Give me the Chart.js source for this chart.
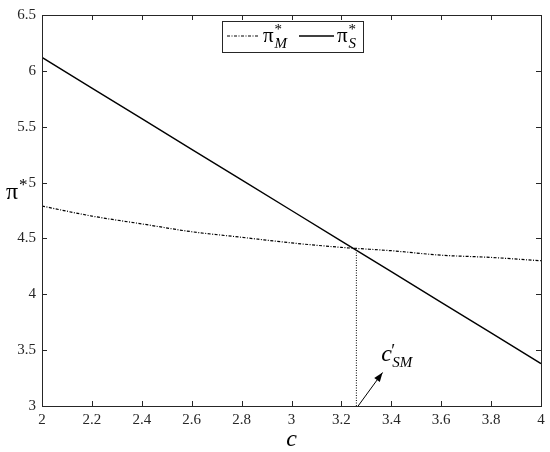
<!DOCTYPE html>
<html>
<head>
<meta charset="utf-8">
<script src="https://cdn.jsdelivr.net/npm/chart.js@4.4.1/dist/chart.umd.min.js"></script>
<style>
  body { margin: 0; background: #fff; }
  #wrap { width: 550px; height: 452px; }
  #warm { position: absolute; left: -999px; top: 0; }
</style>
</head>
<body>
<canvas id="warm" width="200" height="40"></canvas>
<div id="wrap"><canvas id="myChart"></canvas></div>
<script>
const cValues = [2, 2.2, 2.4, 2.6, 2.8, 3, 3.2, 3.4, 3.6, 3.8, 4];
const piM = [4.79, 4.70, 4.63, 4.56, 4.51, 4.46, 4.42, 4.39, 4.35, 4.33, 4.30];
const piS = [6.12, 5.846, 5.572, 5.298, 5.024, 4.75, 4.476, 4.202, 3.928, 3.654, 3.38];
const crossC = [3.26, 3.26];
const crossPi = [3, 4.40];
const xTicks = [2, 2.2, 2.4, 2.6, 2.8, 3, 3.2, 3.4, 3.6, 3.8, 4];
const yTicks = [3, 3.5, 4, 4.5, 5, 5.5, 6, 6.5];
const arrowFrom = [3.267, 3.0];
const arrowTo = [3.365, 3.30];
const labelAt = [3.36, 3.40];

const ctx = document.getElementById("myChart");
const ink = "#262626";
const serif = "'Liberation Serif'";

// touch the serif faces once on a plain canvas before the chart draws
const warm = document.getElementById("warm").getContext("2d");
["20px ", "italic 20px "].forEach((s) => {
  warm.font = s + serif;
  warm.fillText("π c 6.5 SM", 5, 25);
});

function toPoints(xs, ys) {
  return xs.map((x, i) => ({ x: x, y: ys[i] }));
}

function fmt(v) {
  return String(Math.round(v * 10) / 10);
}

// pi with superscript star and optional subscript
function drawPi(c, x, y, sub, size) {
  c.fillStyle = "#000";
  c.textAlign = "left";
  c.textBaseline = "alphabetic";
  c.font = size + "px " + serif;
  c.fillText("π", x, y);
  const w = c.measureText("π").width;
  c.font = Math.round(size * 0.7) + "px " + serif;
  c.fillText("*", x + w + 1, y - size * 0.38);
  if (sub) {
    c.font = "italic " + Math.round(size * 0.72) + "px " + serif;
    c.fillText(sub, x + w + 1, y + size * 0.3);
  }
}

const overlay = {
  id: "overlay",
  afterDraw(chart) {
    const c = chart.ctx;
    const a = chart.chartArea;
    const xs = chart.scales.x;
    const ys = chart.scales.y;
    c.save();
    // box
    c.strokeStyle = ink;
    c.lineWidth = 1;
    c.strokeRect(Math.round(a.left) + 0.5, Math.round(a.top) + 0.5,
      Math.round(a.right - a.left), Math.round(a.bottom - a.top));
    // inward ticks on all sides
    c.beginPath();
    xTicks.forEach((t) => {
      const px = Math.round(xs.getPixelForValue(t)) + 0.5;
      c.moveTo(px, a.bottom); c.lineTo(px, a.bottom - 5);
      c.moveTo(px, a.top); c.lineTo(px, a.top + 5);
    });
    yTicks.forEach((t) => {
      const py = Math.round(ys.getPixelForValue(t)) + 0.5;
      c.moveTo(a.left, py); c.lineTo(a.left + 5, py);
      c.moveTo(a.right, py); c.lineTo(a.right - 5, py);
    });
    c.stroke();

    // axis titles
    c.fillStyle = "#000";
    c.font = "italic 24px " + serif;
    c.textAlign = "center";
    c.fillText("c", (a.left + a.right) / 2, 446);
    drawPi(c, 6, 199, null, 24);

    // arrow annotation
    const x0 = xs.getPixelForValue(arrowFrom[0]);
    const y0 = ys.getPixelForValue(arrowFrom[1]);
    const x1 = xs.getPixelForValue(arrowTo[0]);
    const y1 = ys.getPixelForValue(arrowTo[1]);
    c.strokeStyle = "#000";
    c.lineWidth = 1;
    c.beginPath();
    c.moveTo(x0, y0); c.lineTo(x1, y1);
    c.stroke();
    const ang = Math.atan2(y1 - y0, x1 - x0);
    c.beginPath();
    c.moveTo(x1, y1);
    c.lineTo(x1 - 10 * Math.cos(ang - 0.35), y1 - 10 * Math.sin(ang - 0.35));
    c.lineTo(x1 - 10 * Math.cos(ang + 0.35), y1 - 10 * Math.sin(ang + 0.35));
    c.closePath();
    c.fillStyle = "#000";
    c.fill();
    const lx = xs.getPixelForValue(labelAt[0]);
    const ly = ys.getPixelForValue(labelAt[1]);
    c.textAlign = "left";
    c.font = "italic 24px " + serif;
    c.fillText("c", lx, ly);
    c.font = "18px " + serif;
    c.fillText("′", lx + 10, ly - 4);
    c.font = "italic 15px " + serif;
    c.fillText("SM", lx + 11, ly + 6);

    // legend
    const bx = 222, by = 21, bw = 141, bh = 31;
    c.fillStyle = "#fff";
    c.fillRect(bx, by, bw, bh);
    c.strokeStyle = ink;
    c.strokeRect(bx + 0.5, by + 0.5, bw, bh);
    c.strokeStyle = "#000";
    c.lineWidth = 1.2;
    c.setLineDash([3, 1.5, 1, 1.5]);
    c.beginPath(); c.moveTo(227, 36); c.lineTo(259, 36); c.stroke();
    c.setLineDash([]);
    c.lineWidth = 1.4;
    c.beginPath(); c.moveTo(299, 36); c.lineTo(334, 36); c.stroke();
    drawPi(c, 263, 42, "M", 21);
    drawPi(c, 337, 42, "S", 21);
    c.restore();
  }
};

new Chart(ctx, {
  type: "line",
  data: {
    datasets: [
      {
        label: "π*_M",
        data: toPoints(cValues, piM),
        borderColor: "#000",
        borderWidth: 1.2,
        borderDash: [3, 1.5, 1, 1.5],
        pointRadius: 0,
        cubicInterpolationMode: "monotone",
      },
      {
        label: "π*_S",
        data: toPoints(cValues, piS),
        borderColor: "#000",
        borderWidth: 1.4,
        pointRadius: 0,
      },
      {
        label: "c'_SM",
        data: toPoints(crossC, crossPi),
        borderColor: "#000",
        borderWidth: 1,
        borderDash: [1, 1.5],
        pointRadius: 0,
      },
    ],
  },
  options: {
    responsive: true,
    maintainAspectRatio: false,
    animation: false,
    layout: { padding: { top: 10, right: 9, left: 0, bottom: 0 } },
    plugins: { legend: { display: false }, tooltip: { enabled: false } },
    scales: {
      x: {
        type: "linear",
        min: 2,
        max: 4,
        afterBuildTicks: (s) => { s.ticks = xTicks.map((v) => ({ value: v })); },
        afterFit: (s) => { s.height = 46; },
        grid: { display: false, drawTicks: false },
        border: { display: false },
        ticks: {
          callback: fmt,
          color: "#262626",
          padding: 5,
          maxRotation: 0,
          autoSkip: false,
          font: { family: serif, size: 15 },
        },
      },
      y: {
        min: 3,
        max: 6.5,
        afterBuildTicks: (s) => { s.ticks = yTicks.map((v) => ({ value: v })); },
        afterFit: (s) => { s.width = 42; },
        grid: { display: false, drawTicks: false },
        border: { display: false },
        ticks: {
          callback: fmt,
          color: "#262626",
          padding: 6,
          font: { family: serif, size: 15 },
        },
      },
    },
  },
  plugins: [overlay],
});
</script>
</body>
</html>
